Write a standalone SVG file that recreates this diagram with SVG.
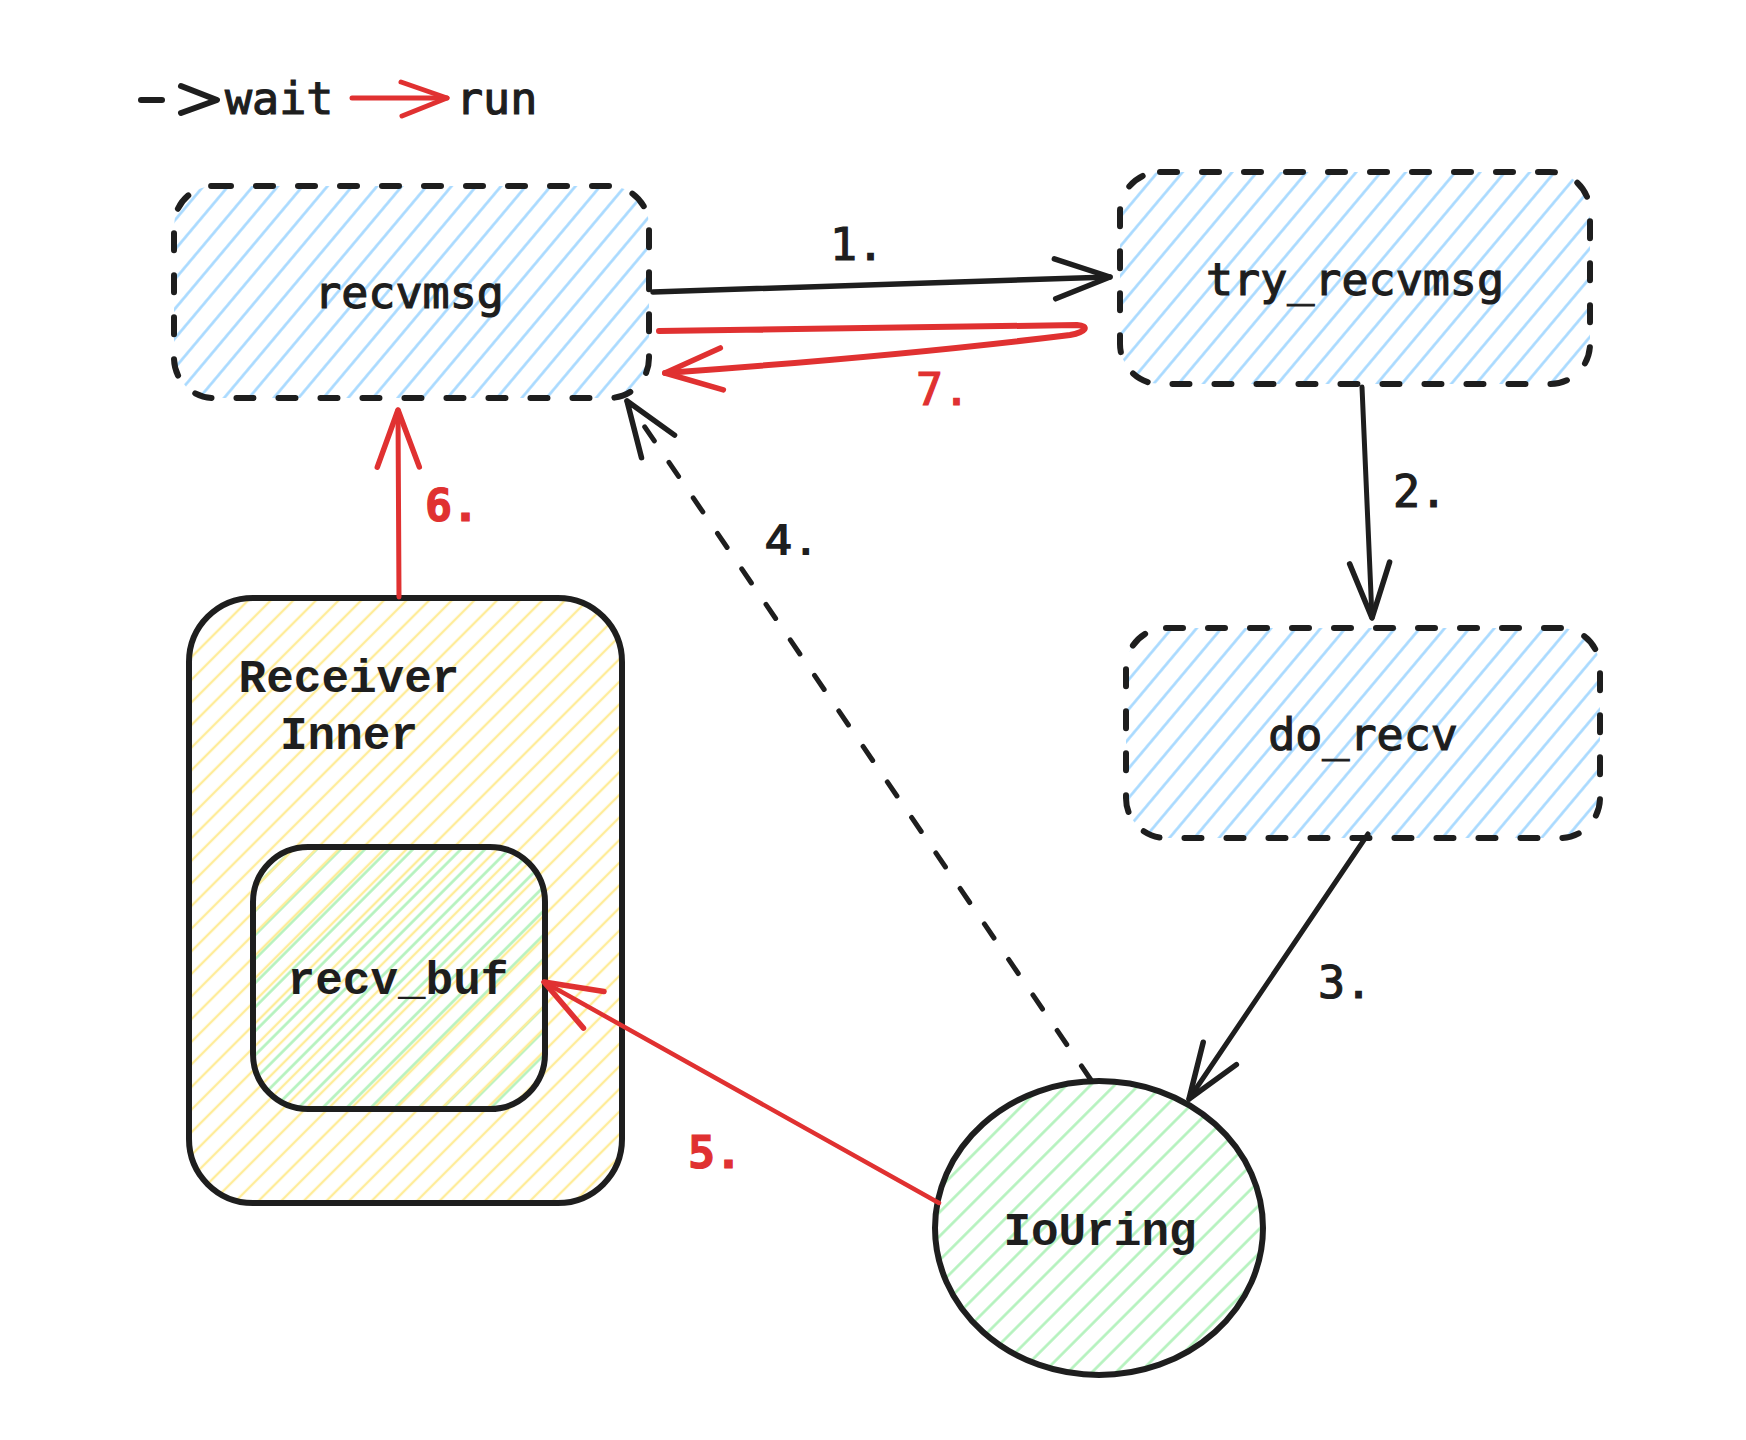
<svg xmlns="http://www.w3.org/2000/svg" width="1746" height="1440" viewBox="0 0 1746 1440">
<style>
.bg{fill:#ffffff}
.dashbox{stroke:#1e1e1e;stroke-width:6;stroke-dasharray:17 25;stroke-linecap:round;stroke-linejoin:round}
.solid{stroke:#1e1e1e;stroke-width:6;stroke-linejoin:round}
.mono{font-family:"DejaVu Sans Mono","Liberation Mono",monospace;font-size:45px;fill:#1e1e1e;stroke:#1e1e1e;stroke-width:1.2px}
.cour{font-family:"Liberation Mono","DejaVu Sans Mono",monospace;font-size:46px;font-weight:bold;fill:#1e1e1e}
.red{fill:#e03131;stroke:#e03131}
.blk{stroke:#1e1e1e;fill:none;stroke-linecap:round;stroke-linejoin:round}
.rd{stroke:#e03131;fill:none;stroke-linecap:round;stroke-linejoin:round}
</style>
<defs>
<pattern id="hBlue" patternUnits="userSpaceOnUse" width="20" height="19" patternTransform="rotate(-50)"><line x1="-2" y1="9.5" x2="22" y2="9.5" stroke="#a5d8ff" stroke-width="2.6"/></pattern>
<pattern id="hYellow" patternUnits="userSpaceOnUse" width="20" height="16" patternTransform="rotate(-45)"><line x1="-2" y1="8" x2="22" y2="8" stroke="#ffec99" stroke-width="2.4"/></pattern>
<pattern id="hGreen" patternUnits="userSpaceOnUse" width="20" height="17" patternTransform="rotate(-45)"><line x1="-2" y1="8.5" x2="22" y2="8.5" stroke="#b2f2bb" stroke-width="2.6"/></pattern>
<marker id="aBlk" markerUnits="userSpaceOnUse" markerWidth="70" markerHeight="60" viewBox="-64 -30 70 60" refX="0" refY="0" orient="auto"><path d="M-55,-20 L0,0 L-55,20" fill="none" stroke="#1e1e1e" stroke-width="5.5" stroke-linecap="round" stroke-linejoin="round"/></marker>
<marker id="aRed" markerUnits="userSpaceOnUse" markerWidth="70" markerHeight="60" viewBox="-64 -30 70 60" refX="0" refY="0" orient="auto"><path d="M-57,-21 L0,0 L-57,21" fill="none" stroke="#e03131" stroke-width="5.5" stroke-linecap="round" stroke-linejoin="round"/></marker>
</defs>
<rect class="bg" x="0" y="0" width="1746" height="1440"/>

<g id="legend">
<line class="blk" x1="141" y1="100" x2="162" y2="100" stroke-width="6"/>
<polyline class="blk" points="181,86 217,100 181,113" stroke-width="6"/>
<text class="mono" x="225" y="114">wait</text>
<line class="rd" x1="352" y1="98" x2="447" y2="98" stroke-width="5"/>
<polyline class="rd" points="401,82 447,98 402,116" stroke-width="5"/>
<text class="mono" x="456" y="114">run</text>
</g>

<g id="recvmsg">
<rect x="174" y="186" width="475" height="212" rx="40" style="fill:url(#hBlue)" class="dashbox"/>
<text class="mono" x="409" y="308" text-anchor="middle">recvmsg</text>
</g>

<g id="try_recvmsg">
<rect x="1120" y="172" width="470" height="212" rx="40" style="fill:url(#hBlue)" class="dashbox"/>
<text class="mono" x="1355" y="295" text-anchor="middle">try_recvmsg</text>
</g>

<g id="do_recv">
<rect x="1126" y="628" width="474" height="210" rx="40" style="fill:url(#hBlue)" class="dashbox"/>
<text class="mono" x="1363" y="750" text-anchor="middle">do_recv</text>
</g>

<g id="receiver_inner">
<rect x="189" y="598" width="433" height="605" rx="64" style="fill:url(#hYellow)" class="solid"/>
<text class="cour" x="349" y="692" text-anchor="middle">Receiver</text>
<text class="cour" x="349" y="749" text-anchor="middle">Inner</text>
</g>

<g id="recv_buf">
<rect x="253" y="847" width="292" height="262" rx="55" style="fill:#ffffff"/>
<rect x="253" y="847" width="292" height="262" rx="55" style="fill:url(#hGreen)"/>
<rect x="253" y="847" width="292" height="262" rx="55" style="fill:url(#hYellow)" class="solid"/>
<text class="cour" x="398" y="994" text-anchor="middle">recv_buf</text>
</g>

<g id="iouring">
<ellipse cx="1099" cy="1228" rx="164" ry="147" style="fill:url(#hGreen)" class="solid"/>
<text class="cour" x="1100" y="1245" text-anchor="middle">IoUring</text>
</g>

<g id="connectors">
<path class="blk" d="M653,292 L1110,277" stroke-width="5.5" marker-end="url(#aBlk)"/>
<text class="mono" x="857" y="260" text-anchor="middle">1.</text>
<path class="blk" d="M1362,387 L1372,618" stroke-width="5" marker-end="url(#aBlk)"/>
<text class="mono" x="1420" y="507" text-anchor="middle">2.</text>
<path class="blk" d="M1368,834 L1189,1099" stroke-width="5" marker-end="url(#aBlk)"/>
<text class="mono" x="1345" y="998" text-anchor="middle">3.</text>
<path class="blk" d="M1091,1080 L627,401" stroke-width="5" stroke-dasharray="17 26" marker-end="url(#aBlk)"/>
<text class="cour" x="792" y="555" text-anchor="middle">4.</text>
<path class="rd" d="M939,1203 L544,982" stroke-width="4.5" marker-end="url(#aRed)"/>
<text class="mono red" x="715" y="1168" text-anchor="middle" font-weight="bold">5.</text>
<path class="rd" d="M399,597 L398,410" stroke-width="5" marker-end="url(#aRed)"/>
<text class="mono red" x="452" y="521" text-anchor="middle" font-weight="bold">6.</text>
<path class="rd" d="M659,331 L1077,325 C1090,326 1086,332 1070,335 Q900,356 665,373" stroke-width="6" marker-end="url(#aRed)"/>
<text class="mono red" x="943" y="405" text-anchor="middle">7.</text>
</g>
</svg>
